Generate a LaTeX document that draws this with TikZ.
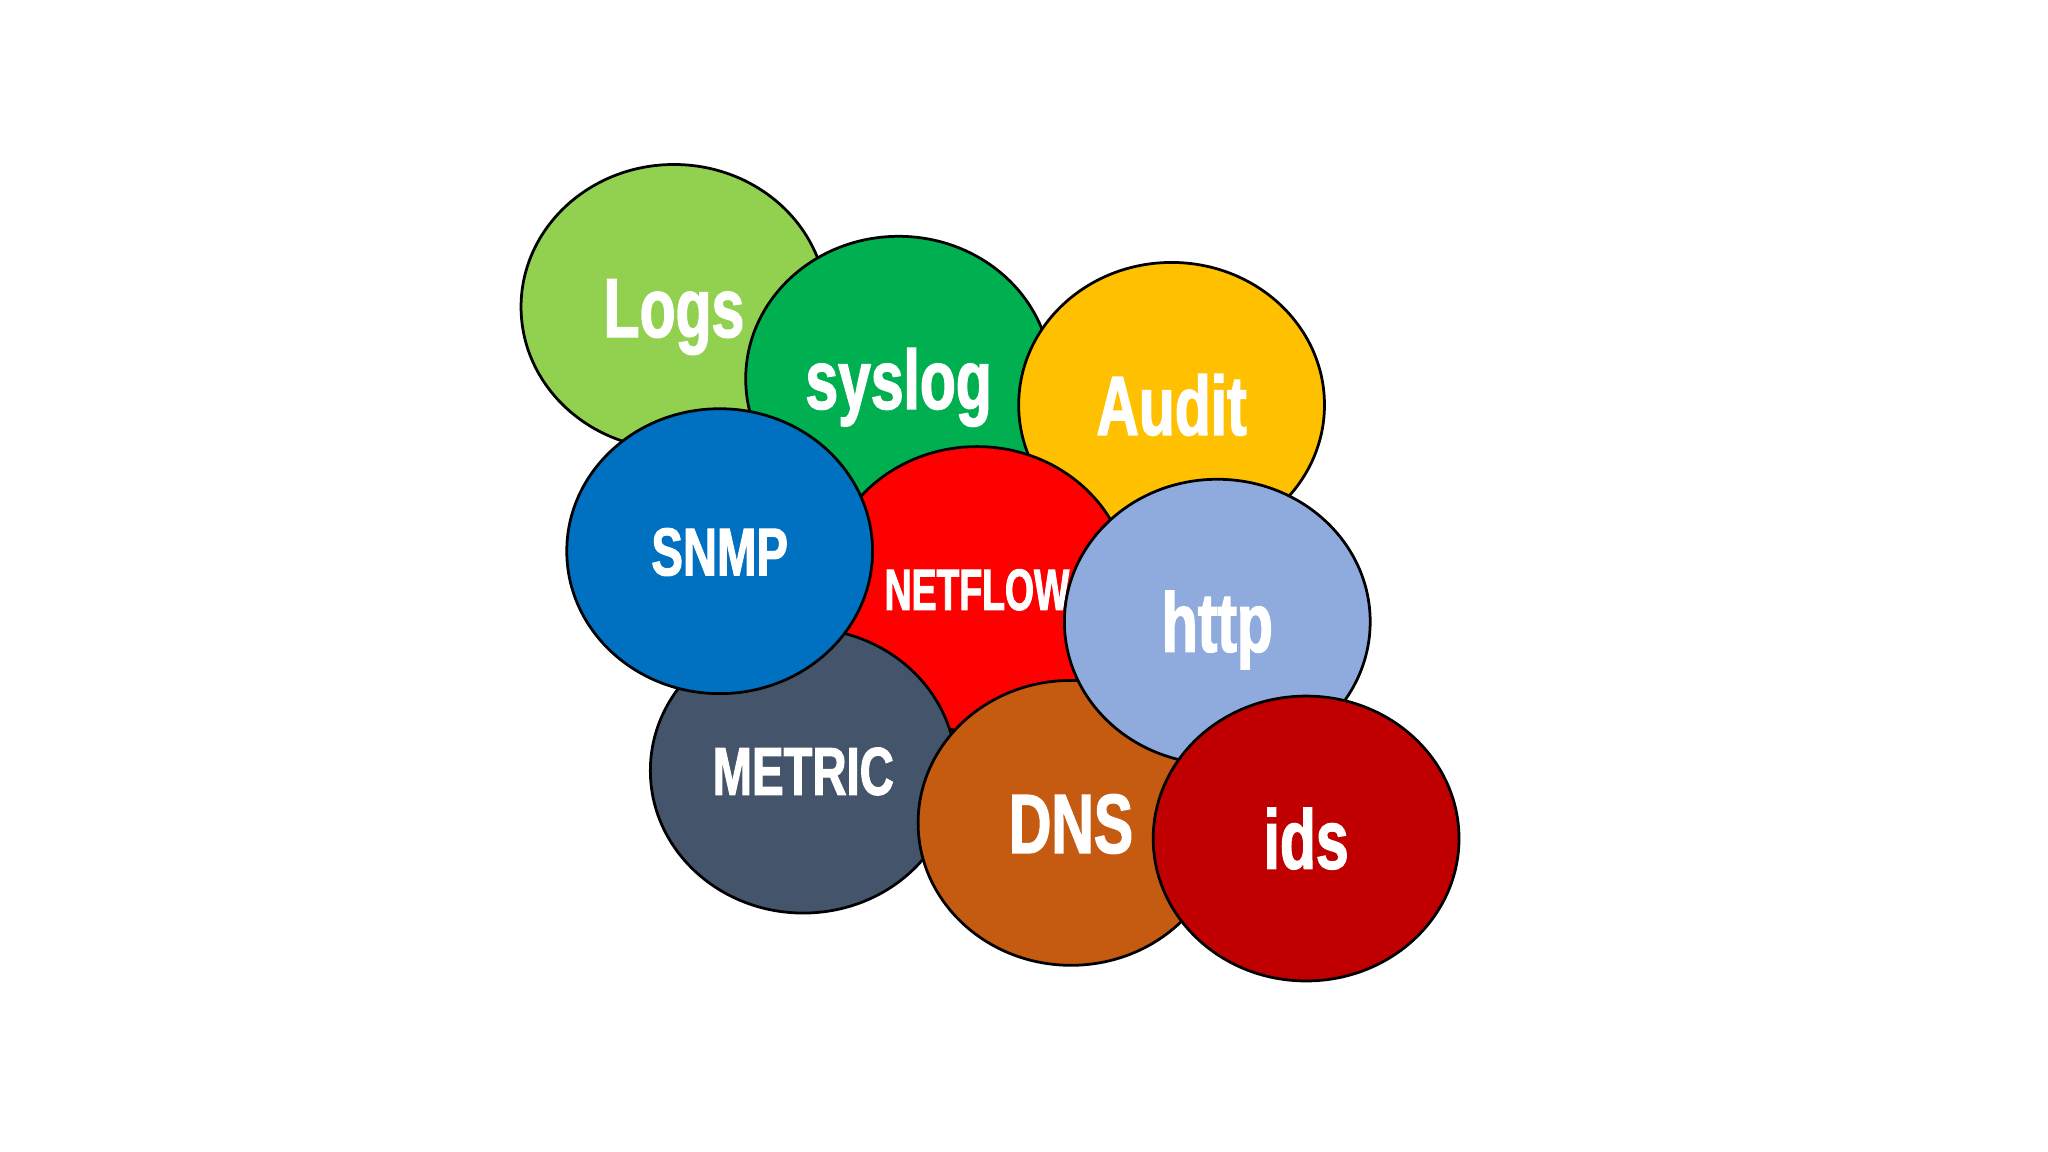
\documentclass[tikz,border=0pt]{standalone}
\usepackage{fontspec}
\newfontfamily\bubblefont{Liberation Sans}[FakeStretch=0.70,FakeBold=1.6]
\newfontfamily\narrowfont{Liberation Sans}[FakeStretch=0.64,FakeBold=1.6]
\usetikzlibrary{shapes.geometric}

\definecolor{logsgreen}{HTML}{92D050}
\definecolor{sysgreen}{HTML}{00B050}
\definecolor{auditgold}{HTML}{FFC000}
\definecolor{flowred}{HTML}{FF0000}
\definecolor{snmpblue}{HTML}{0070C0}
\definecolor{httpblue}{HTML}{8FAADC}
\definecolor{metricgray}{HTML}{44546A}
\definecolor{dnsbrown}{HTML}{C55A11}
\definecolor{idsred}{HTML}{C00000}

\tikzset{
  bubble/.style={ellipse, draw=black, line width=0.6pt, minimum width=2.34cm, minimum height=2.18cm,
    inner sep=0pt, text=white, font=\bubblefont\bfseries\fontsize{18.3}{20}\selectfont,
    text height=13.1pt, text depth=0pt},
  midword/.style={font=\bubblefont\bfseries\fontsize{14.7}{16}\selectfont, text height=10.5pt},
  smallword/.style={font=\narrowfont\bfseries\fontsize{12.7}{14}\selectfont, text height=9.1pt}
}

\begin{document}
\begin{tikzpicture}[x=0.01cm,y=-0.01cm]
      \useasboundingbox (0,0) rectangle (1568,882);
      % back row first, later bubbles lie on top
      \node[bubble, fill=logsgreen] (logs) at (516,235) {Logs};
      \node[bubble, fill=sysgreen] (syslog) at (688,290) {syslog};
      \node[bubble, fill=auditgold] (audit) at (897,310) {Audit};
      \node[bubble, smallword, fill=flowred] (netflow) at (748,451) {NETFLOW};
      \node[bubble, midword, fill=metricgray] (metric) at (615,590) {METRIC};
      \node[bubble, midword, fill=snmpblue] (snmp) at (551,422) {SNMP};
      \node[bubble, fill=dnsbrown] (dns) at (820,630) {DNS};
      \node[bubble, fill=httpblue] (http) at (932,476) {http};
      \node[bubble, fill=idsred] (ids) at (1000,642) {ids};
    \end{tikzpicture}
\end{document}
